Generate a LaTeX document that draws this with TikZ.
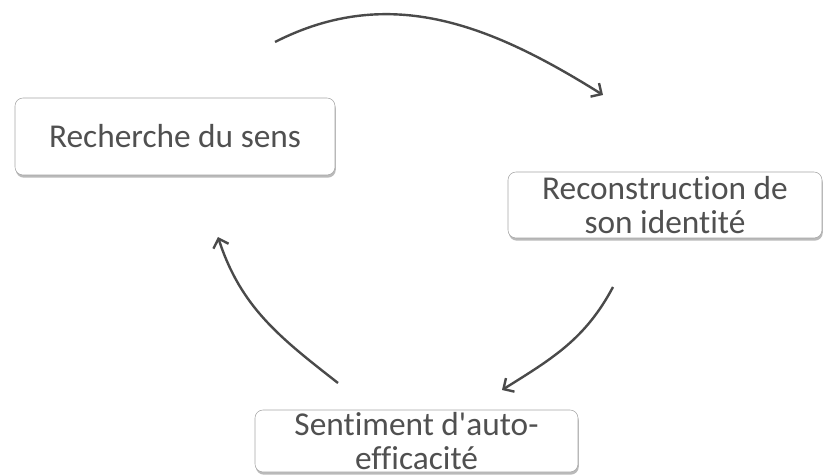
\documentclass[tikz,border=0pt]{standalone}
\usepackage{fontspec}
\setmainfont{Carlito}[Ligatures=NoCommon]
\usetikzlibrary{arrows.meta, shadows}

\definecolor{txtgray}{HTML}{505050}
\definecolor{linegray}{HTML}{4A4A4A}

\begin{document}
\begin{tikzpicture}[x=0.75pt, y=0.75pt, >={Straight Barb[length=6pt, width=12pt]},
  stage/.style={draw=gray!70, fill=white, rounded corners=6pt, align=center,
    text=txtgray, font=\fontsize{25}{25}\selectfont, inner sep=0pt,
    drop shadow={shadow xshift=0.6pt, shadow yshift=-2pt, fill=black!45, opacity=0.6}},
  cyc/.style={->, draw=linegray, line width=1.8pt}]

\useasboundingbox (0,0) rectangle (824,475);

% Nodes
\node (sens) [stage, minimum width=240pt, minimum height=57.75pt] at (175,338.5) {Recherche du sens};
\node (ident) [stage, minimum width=235.5pt, minimum height=49.5pt] at (665,270) {Reconstruction de\\son identité};
\node (effic) [stage, minimum width=242.25pt, minimum height=46.5pt] at (416.5,34) {Sentiment d\textquotesingle auto-\\efficacité};

% Arrow ends
\coordinate (top1) at (275,433);
\coordinate (top2) at (603,380);
\coordinate (rgt1) at (613,188);
\coordinate (rgt2) at (502,85);
\coordinate (lft1) at (338,92);
\coordinate (lft2) at (218,238);

% Arrows
\draw[cyc] (top1) to[out=27, in=148] (top2);
\draw[cyc] (rgt1) to[out=-118, in=32] (rgt2);
\draw[cyc] (lft1) to[out=142, in=-72] (lft2);

\end{tikzpicture}
\end{document}
